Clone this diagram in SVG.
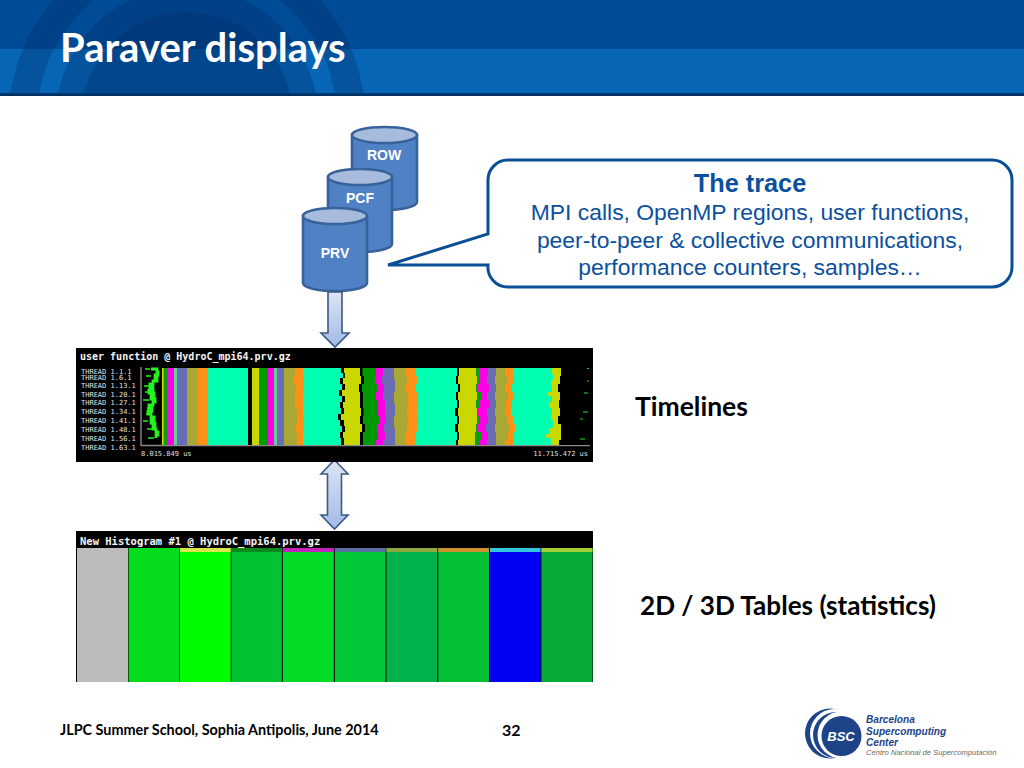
<svg xmlns="http://www.w3.org/2000/svg" width="1024" height="768" viewBox="0 0 1024 768">
<style>
.lato{font-family:Lato,"Open Sans","Noto Sans",sans-serif;font-weight:700}
.mono{font-family:"DejaVu Sans Mono","Liberation Mono",monospace}
.sans{font-family:"Liberation Sans",Arial,sans-serif}
.cyl{fill:#4f81c4;stroke:#37629a;stroke-width:2.6}
.cylTop{fill:#a7bcdc;stroke:#37629a;stroke-width:2.6}
.cylLabel{font-size:14px;font-weight:700;fill:#fff;text-anchor:middle}
.arrow{fill:url(#arrowFill);stroke:#3a5a86;stroke-width:1.6;stroke-linejoin:miter}
.tr{font-size:7px;fill:#e0e0e0}
.body{font-size:22.9px;fill:#0b4f9e;text-anchor:middle}
.bsc{font-size:10.1px;font-weight:700;font-style:italic;fill:#1d4489}
</style>
<defs>
<linearGradient id="arrowFill" x1="0" y1="0" x2="0" y2="1"><stop offset="0" stop-color="#dde5f4"/><stop offset="1" stop-color="#a3b9e6"/></linearGradient>
<linearGradient id="barEdge" x1="0" y1="0" x2="0" y2="1"><stop offset="0" stop-color="#023a74"/><stop offset="1" stop-color="#00315f"/></linearGradient>
<clipPath id="hdr"><rect x="0" y="0" width="1024" height="93"/></clipPath>
<filter id="soft" x="-2%" y="-2%" width="104%" height="104%"><feGaussianBlur stdDeviation="0.4"/></filter>
</defs>
<rect width="1024" height="768" fill="#fff"/>
<g id="header">
<rect x="0" y="0" width="1024" height="49" fill="#004b95"/>
<rect x="0" y="49" width="1024" height="44" fill="#0666b5"/>
<g clip-path="url(#hdr)" fill="#002a66">
<path fill-rule="evenodd" opacity="0.32" d="M9,118a178,178 0 1,1 356,0a178,178 0 1,1 -356,0ZM37,118a150,150 0 1,0 300,0a150,150 0 1,0 -300,0Z"/>
<path fill-rule="evenodd" opacity="0.32" d="M56,118a131,131 0 1,1 262,0a131,131 0 1,1 -262,0ZM81,118a106,106 0 1,0 212,0a106,106 0 1,0 -212,0Z"/>
<circle cx="187" cy="118" r="106" opacity="0.52"/>
</g>
<rect x="0" y="93" width="1024" height="3" fill="url(#barEdge)"/>
<text class="lato" x="60" y="62" font-size="40" fill="#fff">Paraver displays</text>
</g>
<g id="node-row">
<path class="cyl" d="M352,135V202A32.5,8 0 0,0 417,202V135Z"/>
<ellipse class="cylTop" cx="384.500" cy="135" rx="32.500" ry="8"/>
<text class="sans cylLabel" x="384" y="160">ROW</text>
</g>
<g id="node-pcf">
<path class="cyl" d="M328,177V244A32,8 0 0,0 392,244V177Z"/>
<ellipse class="cylTop" cx="360" cy="177" rx="32" ry="8"/>
<text class="sans cylLabel" x="360" y="203">PCF</text>
</g>
<g id="node-prv">
<path class="cyl" d="M303,216V283A32,8 0 0,0 367,283V216Z"/>
<ellipse class="cylTop" cx="335" cy="216" rx="32" ry="8"/>
<text class="sans cylLabel" x="335" y="258">PRV</text>
</g>
<g id="node-callout">
<path d="M508,160H992A20,20 0 0 1 1012,180V267A20,20 0 0 1 992,287H508A20,20 0 0 1 488,265L388,265L488,234V180A20,20 0 0 1 508,160Z" fill="#fff" stroke="#0a4f96" stroke-width="3"/>
<text class="sans" x="750" y="192" font-size="25.300" font-weight="700" fill="#0b4f9e" text-anchor="middle">The trace</text>
<text class="sans body" x="750" y="220">MPI calls, OpenMP regions, user functions,</text>
<text class="sans body" x="750" y="248">peer-to-peer &amp; collective communications,</text>
<text class="sans body" x="750" y="275">performance counters, samples…</text>
</g>
<g id="connectors">
<path class="arrow" d="M328,292H342V333H349L335,347L321,333H328Z"/>
<path class="arrow" d="M334.500,460L348,474H341.500V515H348L334.500,529L321,515H327.500V474H321Z"/>
</g>
<g id="node-timeline">
<rect x="76" y="348" width="517" height="114" fill="#000"/>
<text class="mono" x="80" y="360" font-size="10" font-weight="700" fill="#f4f4f4">user function @ HydroC_mpi64.prv.gz</text>
<g class="mono">
<text class="tr" x="81" y="374">THREAD 1.1.1</text>
<text class="tr" x="81" y="380">THREAD 1.6.1</text>
<text class="tr" x="81" y="388">THREAD 1.13.1</text>
<text class="tr" x="81" y="397">THREAD 1.20.1</text>
<text class="tr" x="81" y="405">THREAD 1.27.1</text>
<text class="tr" x="81" y="414">THREAD 1.34.1</text>
<text class="tr" x="81" y="423">THREAD 1.41.1</text>
<text class="tr" x="81" y="432">THREAD 1.48.1</text>
<text class="tr" x="81" y="441">THREAD 1.56.1</text>
<text class="tr" x="81" y="450">THREAD 1.63.1</text>
<text class="tr" x="141" y="456">8.015.849 us</text>
<text class="tr" x="588" y="456" text-anchor="end">11.715.472 us</text>
</g>
<g filter="url(#soft)">
<path d="M141,367V445.500H590" fill="none" stroke="#8a8a8a" stroke-width="1.400"/>
<path d="M151,369h6v3h1v3h-3v3h2v3h-4v3h-3v3h3v3h-4v3h5v3h-3v3h4v3h-2v3h-4v3h3v3h-4v3h3v3h3v3h-3v3h4v3h-2v3h3v3h2v3h-2v3" fill="none" stroke="#22f51e" stroke-width="2.800"/>
<path d="M145,369h5M146,376h5M144,386h5M145,392h8M143,400h6M147,408h5M146,414h4M143,421h5M147,429h6M148,438h6" fill="none" stroke="#22f51e" stroke-width="1.300"/>
<path d="M162,368V445H561V368Z" fill="#d8df00"/>
<path d="M163.500,368V445H561V368Z" fill="#0f9c0f"/>
<path d="M167,368V445H561V368Z" fill="#ff00e6"/>
<path d="M174,368V445H561V368Z" fill="#64d09a"/>
<path d="M177,368V445H561V368Z" fill="#6a6cb4"/>
<path d="M187,368V445H561V368Z" fill="#aaa836"/>
<path d="M198,368V445H561V368Z" fill="#ff9018"/>
<path d="M208,368V445H561V368Z" fill="#00ffb0"/>
<path d="M248,368V445H561V368Z" fill="#000"/>
<path d="M252,368V445H561V368Z" fill="#c8d800"/>
<path d="M259,368V445H561V368Z" fill="#009a00"/>
<path d="M268,368V445H561V368Z" fill="#ff00e6"/>
<path d="M274,368V445H561V368Z" fill="#64d09a"/>
<path d="M277,368V445H561V368Z" fill="#6a6cb4"/>
<path d="M284,368V445H561V368Z" fill="#aaa836"/>
<path d="M295,368V376H294V384H296V392H295V408H297V424H296V432H297V445H561V368Z" fill="#ff9018"/>
<path d="M303,368V380H304V392H303V416H304V428H303V445H561V368Z" fill="#00ffb0"/>
<path d="M341,368V373H343V378H340V384H342V390H339V396H342V402H340V408H341V414H338V420H340V426H342V432H340V438H341V445H561V368Z" fill="#000"/>
<path d="M344,368V373H345V378H343V384H345V390H342V396H345V402H343V408H344V414H341V420H344V426H345V432H343V438H344V445H561V368Z" fill="#c8d800"/>
<path d="M360,368V376H361V384H359V392H360V408H361V416H360V424H362V432H360V445H561V368Z" fill="#000"/>
<path d="M362.500,368V376H364V384H362V392H363V408H363.500V416H363V424H365V432H363V445H561V368Z" fill="#009a00"/>
<path d="M376,368V376H375V384H377V392H376V400H378V416H379V424H377V432H378V440H376V445H561V368Z" fill="#ff00e6"/>
<path d="M383,368V376H382V384H384V392H383V400H385V416H386V424H384V432H385V440H383V445H561V368Z" fill="#6a6cb4"/>
<path d="M394,368V380H395V392H394V404H395V416H394V428H395V445H561V368Z" fill="#aaa836"/>
<path d="M406,368V376H407V384H406V392H408V408H407V416H408V424H407V432H406V445H561V368Z" fill="#ff9018"/>
<path d="M416,368V376H417V384H416V392H418V408H417V416H418V424H417V432H416V445H561V368Z" fill="#00ffb0"/>
<path d="M457,368V376H456V384H458V392H456V400H457V408H455V416H457V424H455V432H457V440H456V445H561V368Z" fill="#000"/>
<path d="M459,368V376H458V384H460V392H458V400H459V408H458V416H459V424H458V432H459V440H458V445H561V368Z" fill="#c8d800"/>
<path d="M476,368V376H477V384H476V392H477V400H476V408H477V424H476V432H475V445H561V368Z" fill="#0f9c0f"/>
<path d="M479,368V376H480V384H478V392H481V400H479V408H478V416H480V424H478V432H481V440H479V445H561V368Z" fill="#ff00e6"/>
<path d="M488,368V376H487V384H489V392H487V400H490V408H487V416H488V424H486V432H488V440H487V445H561V368Z" fill="#6a6cb4"/>
<path d="M496,368V376H495V384H496V392H495V400H496V408H495V416H496V424H495V432H496V445H561V368Z" fill="#aaa836"/>
<path d="M505,368V376H507V384H505V392H508V400H506V408H505V416H507V424H509V432H508V440H505V445H561V368Z" fill="#ff9018"/>
<path d="M513,368V376H514V384H512V392H514V400H512V408H511V416H513V424H515V432H514V440H513V445H561V368Z" fill="#00ffb0"/>
<path d="M552,368V374H553V380H551V386H552V392H548V396H552V402H549V408H552V414H551V420H553V428H549V434H546V438H551V445H561V368Z" fill="#c8d800"/>
<path d="M561,368V376H560V384H558V392H560V400H559V408H560V416H558V424H563V432H562V440H559V445H592V368Z" fill="#000"/>
<path d="M587,368.500h2M587,381h2M584,393h4M583,412h5M580,419h3M580,439h5" fill="none" stroke="#1fe01f" stroke-width="1.200"/>
</g>
</g>
<g id="node-table">
<rect x="76" y="531" width="517" height="151" fill="#000"/>
<text class="mono" x="80" y="545" font-size="10.500" font-weight="700" fill="#f4f4f4">New Histogram #1 @ HydroC_mpi64.prv.gz</text>
<rect x="77" y="548" width="51" height="134" fill="#bcbcbc"/>
<rect x="128.600" y="548" width="50.400" height="134" fill="#05dd1c"/>
<rect x="179.700" y="548" width="51" height="134" fill="#00fc00"/>
<rect x="231.400" y="548" width="50.400" height="134" fill="#03c332"/>
<rect x="282.800" y="548" width="51" height="134" fill="#03dc25"/>
<rect x="334.900" y="548" width="50.600" height="134" fill="#02c938"/>
<rect x="386.500" y="548" width="50.800" height="134" fill="#02b24a"/>
<rect x="438.300" y="548" width="50.700" height="134" fill="#03c034"/>
<rect x="490" y="548" width="50.500" height="134" fill="#0000f4"/>
<rect x="541.400" y="548" width="51.100" height="134" fill="#05aa38"/>
<rect x="179.700" y="548" width="51" height="4" fill="#dde34a"/>
<rect x="231.400" y="548" width="50.400" height="4" fill="#0d8a1d"/>
<rect x="282.800" y="548" width="51" height="4" fill="#c322bf"/>
<rect x="334.900" y="548" width="50.600" height="4" fill="#5a6f9f"/>
<rect x="386.500" y="548" width="50.800" height="4" fill="#8fa73f"/>
<rect x="438.300" y="548" width="50.700" height="4" fill="#d08f30"/>
<rect x="490" y="548" width="50.500" height="4" fill="#33c6dc"/>
<rect x="541.400" y="548" width="51.100" height="4" fill="#a0d034"/>
</g>
<g id="label-timelines"><text class="lato" x="635" y="416" font-size="26.500" fill="#000">Timelines</text></g>
<g id="label-tables"><text class="lato" x="640" y="615" font-size="26.100" fill="#000">2D / 3D Tables (statistics)</text></g>
<g id="footer">
<text class="lato" x="60" y="735" font-size="14.400" fill="#000">JLPC Summer School, Sophia Antipolis, June 2014</text>
<text class="lato" x="502" y="736" font-size="16" fill="#000">32</text>
</g>
<g id="logo">
<circle cx="830" cy="733.500" r="25" fill="#1d4489"/>
<circle cx="834.500" cy="733.500" r="24.500" fill="#fff"/>
<circle cx="836" cy="735" r="23" fill="#1d4489"/>
<circle cx="841" cy="735" r="23.500" fill="#fff"/>
<circle cx="841.500" cy="736" r="20" fill="#1d4489"/>
<text class="sans" x="841" y="741" font-size="13" font-weight="700" font-style="italic" fill="#fff" text-anchor="middle">BSC</text>
<text class="sans bsc" x="866" y="723">Barcelona</text>
<text class="sans bsc" x="866" y="735">Supercomputing</text>
<text class="sans bsc" x="866" y="746">Center</text>
<text class="sans" x="866" y="755" font-size="7.600" font-style="italic" fill="#6a6a6a">Centro Nacional de Supercomputación</text>
</g>
</svg>
